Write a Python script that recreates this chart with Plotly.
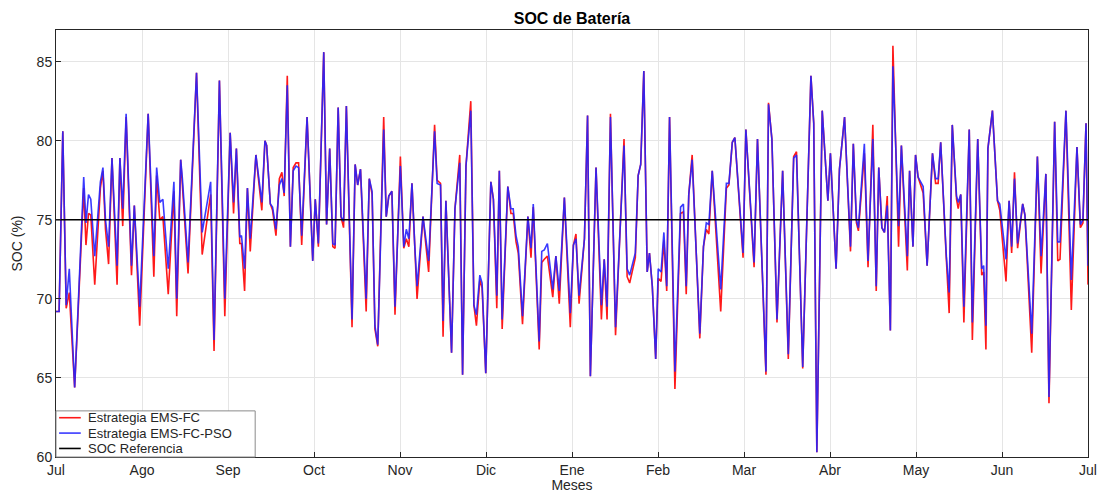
import plotly.graph_objects as go

# Day of the year (day 0 = 1 Jul) for each recorded SOC sample
days = [
    0, 1.1, 2.4, 3.6, 4.7, 6.6, 9.8, 10.6, 11.5, 12.3,
    13.7, 15.7, 16.6, 17.5, 18.6, 19.8, 21.6, 22.6, 23.6, 24.8,
    26.7, 27.7, 29.6, 31.0, 32.6, 34.6, 35.6, 36.7, 37.8, 39.7,
    41.7, 42.7, 44.1, 44.7, 46.7, 49.7, 51.7, 54.7, 55.9, 57.8,
    59.7, 61.6, 62.8, 63.8, 65.0, 65.6, 66.7, 67.7, 68.7, 70.7,
    72.8, 73.9, 74.5, 75.8, 76.6, 77.8, 79.0, 79.9, 80.7, 81.8,
    82.9, 83.9, 84.9, 85.8, 86.9, 88.8, 90.8, 91.7, 92.8, 94.7,
    95.7, 96.8, 97.9, 98.7, 99.8, 100.8, 101.7, 102.7, 104.7, 105.8,
    106.7, 107.7, 109.7, 110.8, 111.8, 112.8, 113.8, 115.9, 116.8, 117.7,
    118.8, 119.9, 121.8, 123.0, 123.9, 124.8, 125.9, 126.9, 127.7, 129.8,
    131.8, 133.9, 134.8, 136.0, 136.9, 137.9, 139.9, 141.1, 142.8, 143.8,
    145.0, 146.7, 147.8, 148.7, 149.9, 150.7, 152.0, 153.8, 154.7, 155.9,
    156.8, 157.8, 159.8, 160.9, 161.7, 162.7, 163.5, 165.0, 166.9, 168.0,
    168.8, 170.9, 171.8, 172.7, 173.8, 175.7, 176.8, 178.0, 179.8, 181.9,
    183.0, 183.9, 185.0, 186.9, 188.0, 189.0, 191.0, 192.9, 193.9, 194.9,
    196.1, 197.9, 200.9, 202.0, 202.9, 204.9, 205.9, 206.8, 207.9, 209.1,
    209.9, 210.9, 212.1, 213.0, 214.0, 215.0, 216.0, 217.0, 218.9, 220.9,
    221.9, 222.9, 223.8, 225.0, 227.7, 229.0, 230.0, 230.9, 232.1, 235.1,
    237.1, 238.0, 239.2, 240.1, 242.2, 243.0, 244.0, 246.9, 248.1, 251.1,
    252.0, 253.2, 255.0, 257.0, 259.0, 260.9, 261.9, 264.1, 267.0, 268.0,
    269.1, 271.0, 273.0, 273.9, 275.9, 277.1, 278.9, 281.0, 282.0, 283.1,
    283.8, 285.9, 287.2, 288.9, 290.1, 291.0, 292.1, 293.0, 294.0, 295.1,
    296.0, 298.0, 299.0, 301.1, 301.9, 303.1, 304.0, 304.9, 306.7, 308.1,
    310.0, 311.1, 312.0, 312.9, 314.9, 315.9, 317.0, 318.5, 319.1, 320.0,
    321.1, 323.0, 324.1, 326.0, 327.4, 328.1, 328.9, 329.6, 331.2, 333.0,
    333.8, 336.0, 337.1, 338.0, 339.0, 340.1, 341.9, 342.7, 345.1, 347.1,
    348.4, 350.1, 351.2, 353.2, 354.3, 355.1, 357.2, 359.1, 361.1, 362.3,
    363.2, 364.3, 365.0,
]

# SOC (%) with the EMS-FC-PSO strategy
soc_pso = [
    69.2, 69.2, 80.6, 69.6, 71.9, 64.4, 77.7, 74.8, 76.6, 76.3,
    72.7, 77.4, 78.3, 75.0, 73.3, 78.9, 72.1, 78.9, 75.7, 81.7,
    72.1, 75.9, 69.5, 75.0, 81.7, 72.7, 78.3, 76.1, 76.3, 71.9,
    77.4, 70.0, 78.8, 77.6, 72.3, 84.3, 74.2, 77.4, 67.4, 83.8,
    70.0, 80.5, 76.1, 79.5, 73.9, 74.0, 71.9, 77.0, 73.8, 79.1,
    76.1, 80.0, 79.7, 76.0, 75.8, 74.4, 77.2, 77.6, 76.7, 83.5,
    73.3, 78.1, 78.4, 78.3, 74.0, 81.5, 72.4, 76.3, 73.5, 85.6,
    74.7, 79.5, 73.5, 73.4, 82.1, 75.2, 74.9, 82.2, 68.7, 78.5,
    77.2, 78.2, 70.0, 77.6, 76.8, 68.3, 67.1, 80.7, 75.2, 76.5,
    76.8, 69.5, 78.4, 73.3, 74.4, 73.8, 77.3, 73.3, 70.8, 75.2,
    72.4, 80.6, 77.3, 77.2, 68.6, 76.2, 66.6, 75.7, 78.6, 65.2,
    78.4, 81.9, 69.6, 69.0, 71.5, 71.0, 65.3, 77.4, 76.3, 70.2,
    78.1, 68.7, 77.1, 75.7, 75.7, 74.0, 73.3, 68.9, 75.2, 73.2,
    76.0, 67.3, 73.0, 73.1, 73.5, 70.6, 72.7, 70.5, 76.4, 69.1,
    73.4, 73.8, 70.2, 73.8, 81.6, 65.1, 78.3, 69.6, 72.5, 69.5,
    81.5, 68.2, 79.7, 71.9, 71.5, 72.9, 77.8, 78.5, 84.4, 71.7,
    72.9, 70.8, 66.2, 71.9, 71.7, 74.2, 70.8, 81.5, 65.4, 75.8,
    76.0, 70.8, 76.6, 78.8, 67.8, 73.3, 74.8, 74.7, 78.1, 70.6,
    77.3, 77.3, 79.9, 80.2, 75.0, 72.9, 80.7, 72.3, 80.1, 65.4,
    82.3, 80.1, 68.7, 78.1, 66.5, 78.9, 79.1, 65.7, 84.1, 81.1,
    60.3, 81.9, 76.2, 79.2, 71.9, 78.2, 81.5, 73.3, 79.8, 75.0,
    74.5, 79.8, 72.4, 80.1, 70.8, 78.3, 74.5, 74.2, 75.9, 68.0,
    84.7, 74.6, 79.7, 72.7, 78.1, 73.3, 79.1, 77.7, 77.1, 72.1,
    79.2, 77.6, 77.6, 79.9, 72.7, 70.4, 81.0, 76.5, 76.1, 76.6,
    69.5, 80.7, 68.5, 80.1, 71.9, 72.1, 68.3, 79.5, 81.9, 76.2,
    76.0, 72.5, 76.2, 73.3, 77.6, 73.5, 76.0, 75.3, 67.8, 79.0,
    72.7, 77.9, 63.8, 81.2, 73.6, 73.6, 81.9, 71.2, 79.6, 74.7,
    75.0, 81.1, 72.1,
]

# SOC (%) with the EMS-FC strategy
soc_fc = [
    69.2, 69.2, 80.6, 69.4, 70.4, 64.4, 77.0, 73.4, 75.4, 75.3,
    70.9, 77.0, 78.1, 74.4, 72.2, 78.9, 70.9, 78.9, 74.6, 81.5,
    71.5, 75.9, 68.3, 75.0, 81.7, 71.4, 77.8, 75.0, 75.2, 70.3,
    76.8, 68.9, 78.8, 77.2, 71.6, 84.3, 72.8, 76.6, 66.7, 83.8,
    68.9, 80.5, 75.4, 79.5, 73.5, 73.5, 70.5, 77.0, 73.0, 79.1,
    75.6, 80.0, 79.7, 76.0, 75.6, 74.0, 77.6, 78.0, 76.5, 84.1,
    73.3, 78.3, 78.6, 78.6, 73.4, 81.5, 72.4, 76.3, 73.3, 85.6,
    74.7, 79.5, 73.3, 73.2, 82.1, 75.2, 74.5, 82.2, 68.2, 78.5,
    77.2, 78.2, 69.2, 77.6, 76.6, 68.1, 67.0, 81.5, 75.2, 76.5,
    76.8, 69.0, 79.0, 73.2, 73.8, 73.3, 77.3, 73.3, 70.0, 75.2,
    71.7, 81.0, 77.5, 77.3, 67.6, 76.2, 66.6, 75.7, 79.1, 65.2,
    78.4, 82.5, 69.6, 68.3, 71.2, 70.7, 65.3, 77.4, 76.3, 69.4,
    78.1, 68.1, 77.1, 75.4, 75.4, 73.6, 72.9, 68.4, 75.2, 72.6,
    75.8, 66.8, 72.3, 72.5, 72.7, 70.1, 72.7, 69.7, 76.4, 68.2,
    73.4, 74.1, 69.7, 73.8, 81.6, 65.1, 78.3, 68.7, 72.5, 68.7,
    81.7, 67.7, 80.1, 71.4, 71.0, 72.6, 77.8, 78.5, 84.4, 71.7,
    72.9, 70.8, 66.2, 71.3, 71.1, 73.7, 70.5, 81.5, 64.3, 75.4,
    75.5, 70.3, 76.6, 79.1, 67.5, 73.3, 74.4, 74.1, 78.1, 69.2,
    77.0, 77.2, 79.9, 80.2, 75.0, 72.6, 80.7, 72.0, 80.1, 65.2,
    82.4, 80.1, 68.5, 78.1, 66.2, 79.0, 79.3, 65.6, 84.1, 81.1,
    60.3, 81.9, 76.2, 79.2, 71.9, 78.2, 81.5, 73.0, 79.8, 74.8,
    74.3, 79.2, 72.0, 81.0, 70.5, 78.3, 74.5, 74.2, 76.5, 68.0,
    86.0, 73.3, 79.7, 71.8, 78.1, 73.3, 79.1, 77.7, 76.7, 72.1,
    79.2, 77.3, 77.3, 79.9, 72.5, 69.1, 81.0, 76.3, 75.7, 76.6,
    68.5, 80.7, 67.4, 80.1, 71.5, 71.7, 66.8, 79.5, 81.9, 76.2,
    75.6, 71.1, 76.2, 72.9, 78.0, 73.2, 76.0, 75.3, 66.6, 79.0,
    71.6, 77.9, 63.4, 81.2, 72.4, 72.5, 81.9, 69.3, 79.6, 74.5,
    74.8, 81.1, 70.9,
]

# Reference SOC and the span it covers
soc_ref = 75
ref_span = [0, 365]

# Month labels placed at twelve equal steps over the year
month_labels = ["Jul", "Ago", "Sep", "Oct", "Nov", "Dic", "Ene",
                "Feb", "Mar", "Abr", "May", "Jun", "Jul"]
month_ticks = [i * 365 / 12 for i in range(len(month_labels))]

y_ticks = [60, 65, 70, 75, 80, 85]

FONT = "Liberation Sans, Arial, Helvetica, sans-serif"
AXIS_COLOR = "#262626"
GRID_COLOR = "#e5e5e5"
LINE_W = 1.6

series = [
    ("Estrategia EMS-FC", soc_fc, "rgb(255,25,25)"),
    ("Estrategia EMS-FC-PSO", soc_pso, "rgba(35,35,255,0.9)"),
]
ref_name, ref_color = "SOC Referencia", "black"

fig = go.Figure()

for name, values, color in series:
    fig.add_trace(go.Scatter(
        x=days, y=values, mode="lines", name=name,
        line=dict(color=color, width=LINE_W), showlegend=False,
    ))
fig.add_trace(go.Scatter(
    x=ref_span, y=[soc_ref] * len(ref_span), mode="lines", name=ref_name,
    line=dict(color=ref_color, width=LINE_W), showlegend=False,
))

# Compact boxed legend in the lower-left corner of the axes
entries = [(n, c) for n, _, c in series] + [(ref_name, ref_color)]
box_w, box_h = 0.193, 0.108
row_step = box_h / len(entries)
shapes = [dict(
    type="rect", xref="paper", yref="paper",
    x0=0, x1=box_w, y0=0, y1=box_h,
    line=dict(color="#8a8a8a", width=1), fillcolor="white", layer="above",
)]
annotations = []
for i, (name, color) in enumerate(entries):
    yc = box_h - row_step * (i + 0.5) + 0.002
    shapes.append(dict(
        type="line", xref="paper", yref="paper",
        x0=0.003, x1=0.024, y0=yc, y1=yc,
        line=dict(color=color, width=LINE_W), layer="above",
    ))
    annotations.append(dict(
        text=name, xref="paper", yref="paper", x=0.029, y=yc,
        xanchor="left", yanchor="middle", showarrow=False,
        font=dict(family=FONT, size=13, color=AXIS_COLOR),
    ))

fig.update_layout(
    width=1098,
    height=493,
    margin=dict(l=56, r=10, t=30, b=36),
    paper_bgcolor="white",
    plot_bgcolor="white",
    font=dict(family=FONT, size=14, color=AXIS_COLOR),
    title=dict(
        text="<b>SOC de Batería</b>",
        x=0.5, xref="paper", xanchor="center",
        y=1 - 18 / 493, yref="container", yanchor="middle",
        font=dict(family=FONT, size=16, color="black"),
    ),
    showlegend=False,
    shapes=shapes,
    annotations=annotations,
)

fig.update_xaxes(
    range=[0, 365],
    tickmode="array", tickvals=month_ticks, ticktext=month_labels,
    ticks="inside", ticklen=5, tickcolor=AXIS_COLOR,
    showgrid=True, gridcolor=GRID_COLOR, gridwidth=1,
    showline=True, linecolor=AXIS_COLOR, linewidth=1, mirror=True,
    zeroline=False,
    tickfont=dict(size=14, color=AXIS_COLOR),
    title=dict(text="Meses", standoff=6, font=dict(size=14, color=AXIS_COLOR)),
    automargin=False,
)
fig.update_yaxes(
    range=[60, 87],
    tickmode="array", tickvals=y_ticks,
    ticks="inside", ticklen=5, tickcolor=AXIS_COLOR,
    showgrid=True, gridcolor=GRID_COLOR, gridwidth=1,
    showline=True, linecolor=AXIS_COLOR, linewidth=1, mirror=True,
    zeroline=False,
    tickfont=dict(size=14, color=AXIS_COLOR),
    title=dict(text="SOC (%)", standoff=10, font=dict(size=14, color=AXIS_COLOR)),
    automargin=False,
)

fig.write_html("out.html")
